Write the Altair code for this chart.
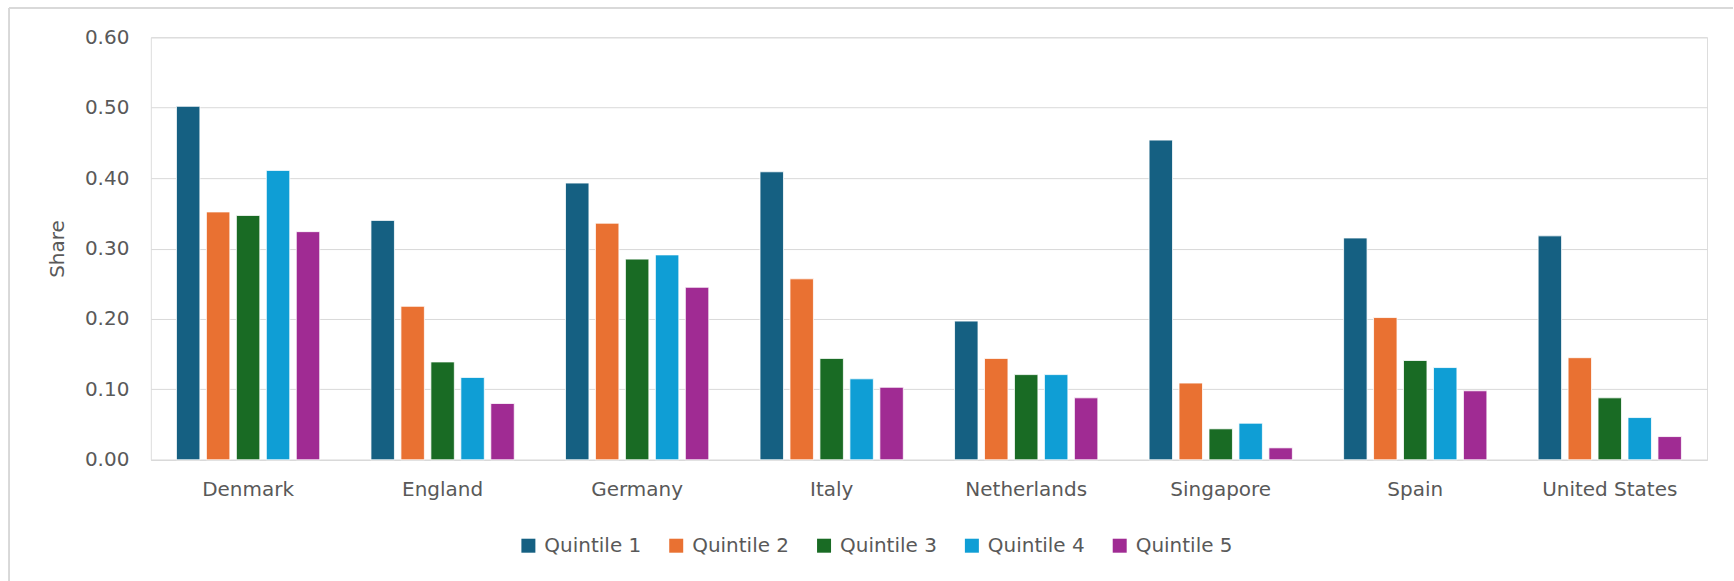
import altair as alt
import pandas as pd

countries = ["Denmark", "England", "Germany", "Italy", "Netherlands", "Singapore", "Spain", "United States"]
quintiles = ["Quintile 1", "Quintile 2", "Quintile 3", "Quintile 4", "Quintile 5"]
q1 = [0.502, 0.340, 0.393, 0.409, 0.197, 0.454, 0.315, 0.318]
q2 = [0.352, 0.218, 0.336, 0.257, 0.144, 0.109, 0.202, 0.145]
q3 = [0.347, 0.139, 0.285, 0.144, 0.121, 0.044, 0.141, 0.088]
q4 = [0.411, 0.117, 0.291, 0.115, 0.121, 0.052, 0.131, 0.060]
q5 = [0.324, 0.080, 0.245, 0.103, 0.088, 0.017, 0.098, 0.033]
colors = ["#156082", "#E97132", "#196B24", "#0F9ED5", "#A02B93"]
y_ticks = [0.0, 0.1, 0.2, 0.3, 0.4, 0.5, 0.6]

rows = []
for q, vals in zip(quintiles, [q1, q2, q3, q4, q5]):
    for c, v in zip(countries, vals):
        rows.append({"Country": c, "Quintile": q, "Share": v})
df = pd.DataFrame(rows)

FONT = "DejaVu Sans"
TXT = "#595959"
GRID = "#D9D9D9"

bars = alt.Chart(df).mark_bar(stroke="white", strokeWidth=0.8).encode(
    x=alt.X("Country:N", sort=countries,
            scale=alt.Scale(paddingInner=0, paddingOuter=0),
            axis=alt.Axis(title=None, labelAngle=0, ticks=False, tickSize=0,
                          labelPadding=20, domain=True, domainColor=GRID,
                          domainWidth=1, grid=False, labelFontSize=20,
                          labelColor=TXT, labelFont=FONT)),
    xOffset=alt.XOffset("Quintile:N", sort=quintiles,
                        scale=alt.Scale(paddingInner=0.217, paddingOuter=0.855)),
    y=alt.Y("Share:Q", scale=alt.Scale(domain=[0, 0.6], nice=False),
            axis=alt.Axis(title="Share", values=y_ticks, format=".2f",
                          ticks=False, tickSize=0, domain=False, grid=True,
                          gridColor=GRID, gridWidth=1, labelPadding=22,
                          labelFontSize=20, labelColor=TXT, labelFont=FONT,
                          titleFontSize=20, titleColor=TXT, titleFont=FONT,
                          titleFontWeight="normal", titlePadding=17)),
    color=alt.Color("Quintile:N", sort=quintiles,
                    scale=alt.Scale(domain=quintiles, range=colors),
                    legend=alt.Legend(title=None, orient="none", direction="horizontal",
                                      legendX=368, legendY=499,
                                      symbolType="square", symbolSize=196,
                                      symbolStrokeWidth=0, labelFontSize=20,
                                      labelColor=TXT, labelFont=FONT,
                                      labelOffset=6, columnPadding=25, padding=0)),
)

top_border = alt.Chart(df).mark_rule(color=GRID, strokeWidth=1, clip=False).encode(
    x=alt.value(-142), x2=alt.value(1584), y=alt.value(-29)
)
left_border = alt.Chart(df).mark_rule(color=GRID, strokeWidth=1, clip=False).encode(
    x=alt.value(-142), y=alt.value(-29), y2=alt.value(545)
)

chart = alt.layer(bars, top_border, left_border).properties(
    width=1558, height=423,
    padding={"left": 8, "top": 7, "right": 0, "bottom": 0},
).configure_view(stroke=None).configure(background="white")

chart.save("out.html", embed_options={"renderer": "svg", "actions": False})
